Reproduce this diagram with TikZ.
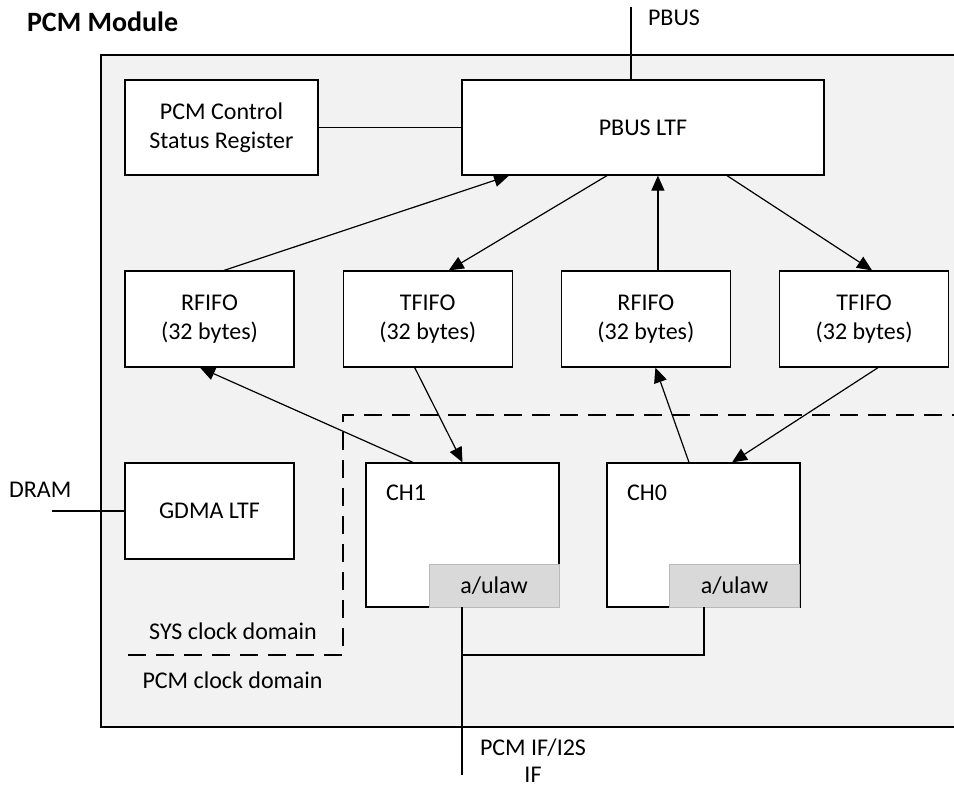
\documentclass[tikz,border=0pt]{standalone}
\usepackage{fontspec}
\setmainfont{Carlito}
\usetikzlibrary{positioning,arrows.meta}

\tikzset{
  blk/.style={draw, fill=white, line width=0.6pt, align=center, inner sep=2pt},
  fifo/.style={blk, minimum width=84.5pt, minimum height=48pt},
  chan/.style={blk, minimum width=96.5pt, minimum height=72pt},
  law/.style={draw=gray!55, line width=0.3pt, fill=gray!30, minimum width=65pt, minimum height=21.5pt, inner sep=0pt},
  arr/.style={-{Triangle[length=7.5pt,width=6.5pt]}, line width=0.6pt},
  bus/.style={line width=1.1pt},
  clkbound/.style={dash pattern=on 9pt off 5pt, line width=1.1pt},
}

\begin{document}
\begin{tikzpicture}[x=0.5pt,y=-0.5pt,font=\fontsize{12}{14.5}\selectfont]

    \useasboundingbox (0,0) rectangle (954,787);

    % Module
    \draw[fill=gray!10, line width=0.6pt] (101,55) rectangle (1000,727);
    \node[anchor=west, font=\fontsize{14}{16}\selectfont\bfseries] (title) at (20,22) {PCM Module}; %

    % Nodes
    \node[blk, minimum width=96.5pt, minimum height=47.5pt] (csr) at (221.5,127.5) {PCM Control\\Status Register}; %
    \node[blk, minimum width=181pt, minimum height=47.5pt]  (ltf) at (643,127.5) {PBUS LTF}; %

    \node[fifo]                     (rfifo1) at (209.5,319) {RFIFO\\(32 bytes)}; %
    \node[fifo, right=24pt of rfifo1] (tfifo1) {TFIFO\\(32 bytes)}; %
    \node[fifo, right=24pt of tfifo1] (rfifo0) {RFIFO\\(32 bytes)}; %
    \node[fifo, right=24pt of rfifo0] (tfifo0) {TFIFO\\(32 bytes)}; %

    \node[fifo] (gdma) at (209.5,511) {GDMA LTF}; %

    \node[chan] (ch1) at (462.5,535) {}; %
    \node[chan] (ch0) at (703.5,535) {}; %
    \node[anchor=west] (ch1-lbl) at (379,493) {CH1}; %
    \node[anchor=west] (ch0-lbl) at (620,493) {CH0}; %
    \node[law] (law1) at (494,585.5) {a/ulaw}; %
    \node[law] (law0) at (734.5,585.5) {a/ulaw}; %

    % Labels
    \node[anchor=west] (pbus-lbl) at (641,18) {PBUS}; %
    \node[anchor=west] (dram-lbl) at (2,490) {DRAM}; %
    \node (sys-lbl) at (233,631) {SYS clock domain}; %
    \node (pcm-lbl) at (232.5,680) {PCM clock domain}; %
    \node[align=center, font=\fontsize{12}{13.5}\selectfont, inner sep=1pt] (if-lbl) at (533,761) {PCM IF/I2S\\IF}; %

    % Free ends
    \coordinate (pbus) at (631,7);
    \coordinate (dram) at (52,511);
    \coordinate (pcmif) at (462,775);
    \coordinate (join) at (704,655);
    \coordinate (sys-l) at (128,655);
    \coordinate (sys-c) at (343,415);
    \coordinate (sys-r) at (1000,415);

    % Connections
    \draw[bus] (pbus) -- (pbus |- ltf.north); %
    \draw[bus] (dram) -- (gdma.west); %
    \draw[line width=0.6pt] (csr.east) -- (ltf.west); %

    \draw[arr] ([xshift=7.25pt]rfifo1.north) -- ([xshift=-67pt]ltf.south); %
    \draw[arr] ([xshift=-18pt]ltf.south) -- ([xshift=10.5pt]tfifo1.north); %
    \draw[arr] ([xshift=6pt]rfifo0.north) -- ([xshift=6pt]rfifo0.north |- ltf.south); %
    \draw[arr] ([xshift=42pt]ltf.south) -- ([xshift=4pt]tfifo0.north); %

    \draw[arr] ([xshift=-24.75pt]ch1.north) -- ([xshift=-4.75pt]rfifo1.south); %
    \draw[arr] ([xshift=-6.5pt]tfifo1.south) -- (ch1.north); %
    \draw[arr] ([xshift=-7.25pt]ch0.north) -- ([xshift=4.75pt]rfifo0.south); %
    \draw[arr] ([xshift=7pt]tfifo0.south) -- ([xshift=14.25pt]ch0.north); %

    \draw[bus] (law1.south -| pcmif) -- (pcmif); %
    \draw[bus] (pcmif |- join) -- (join) -- (join |- law0.south); %

    \draw[clkbound] (sys-l) -| (sys-c) -- (sys-r); %

\end{tikzpicture}
\end{document}
